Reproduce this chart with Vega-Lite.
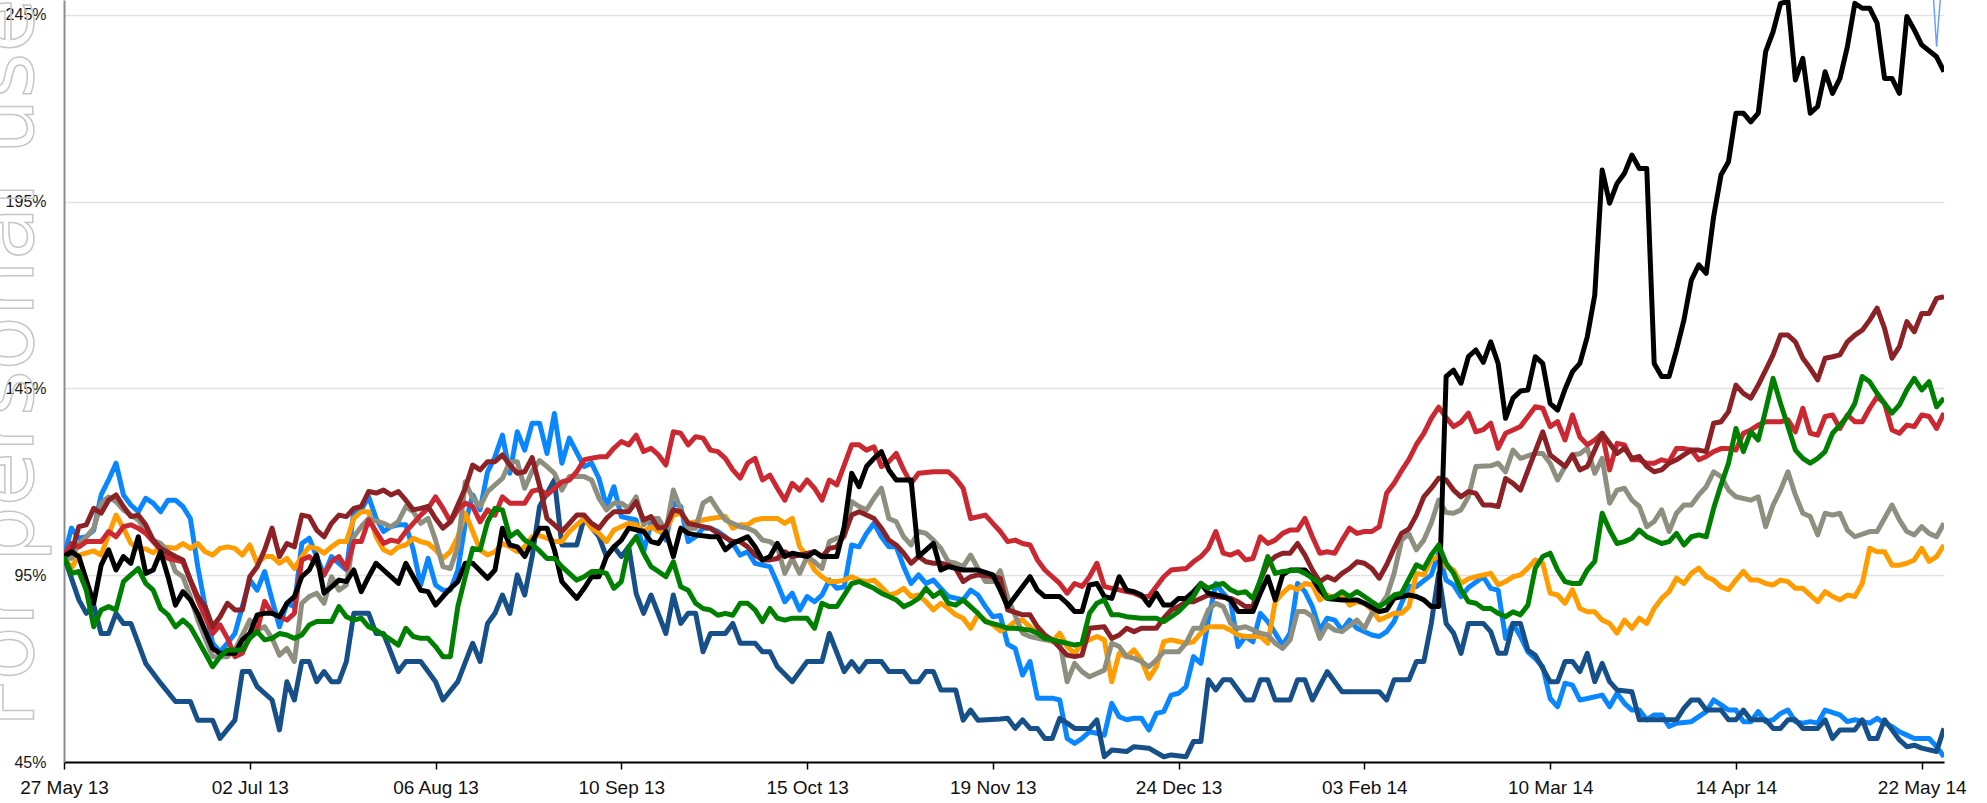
{
"$schema":"https://vega.github.io/schema/vega-lite/v6.json",
"width":1880,"height":762,
"autosize":{"type":"none"},
"padding":{"left":64,"top":0,"right":43,"bottom":41},
"background":"#ffffff",
"config":{"view":{"stroke":null},
"axisX":{"domainColor":"#000000","domainWidth":2,"tickColor":"#000000","tickSize":7,"tickWidth":1.5,"labelFont":"Liberation Sans","labelFontSize":19,"labelColor":"#111111","labelPadding":9,"grid":false,"labelOverlap":false,"labelFlush":false,"labelBound":false},
"axisY":{"domainColor":"#8c8c8c","domainWidth":2,"ticks":false,"labelFont":"Liberation Sans","labelFontSize":16,"labelColor":"#1a1a1a","labelPadding":18,"grid":true,"gridColor":"#e2e2e2","gridWidth":1.5,"labelOverlap":false}},
"data":{"values":[
{"s":"B","d":0,"v":100},{"s":"B","d":1,"v":107.6},{"s":"B","d":2,"v":104.9},{"s":"B","d":3,"v":105.3},{"s":"B","d":4,"v":107.1},{"s":"B","d":5,"v":116.5},{"s":"B","d":6,"v":120.5},{"s":"B","d":7,"v":125},{"s":"B","d":8,"v":116.5},{"s":"B","d":9,"v":113.8},{"s":"B","d":10,"v":112},{"s":"B","d":11,"v":115.6},{"s":"B","d":12,"v":114.3},{"s":"B","d":13,"v":112},{"s":"B","d":14,"v":115.1},{"s":"B","d":15,"v":115.1},{"s":"B","d":16,"v":113.4},{"s":"B","d":17,"v":110.2},{"s":"B","d":18,"v":97.3},{"s":"B","d":19,"v":86.6},{"s":"B","d":20,"v":76.8},{"s":"B","d":21,"v":74.5},{"s":"B","d":22,"v":76.8},{"s":"B","d":23,"v":79.4},{"s":"B","d":24,"v":86.6},{"s":"B","d":25,"v":93.7},{"s":"B","d":26,"v":91},{"s":"B","d":27,"v":96},{"s":"B","d":28,"v":88.4},{"s":"B","d":29,"v":81.2},{"s":"B","d":30,"v":87.5},{"s":"B","d":31,"v":86.6},{"s":"B","d":32,"v":103.5},{"s":"B","d":33,"v":104.9},{"s":"B","d":34,"v":100},{"s":"B","d":35,"v":95.1},{"s":"B","d":36,"v":100},{"s":"B","d":37,"v":98.2},{"s":"B","d":38,"v":96.4},{"s":"B","d":39,"v":112},{"s":"B","d":40,"v":112.5},{"s":"B","d":41,"v":116},{"s":"B","d":42,"v":110.2},{"s":"B","d":43,"v":106.7},{"s":"B","d":44,"v":108},{"s":"B","d":45,"v":108.5},{"s":"B","d":46,"v":108.5},{"s":"B","d":47,"v":101.8},{"s":"B","d":48,"v":92.4},{"s":"B","d":49,"v":99.5},{"s":"B","d":50,"v":92.4},{"s":"B","d":51,"v":91},{"s":"B","d":52,"v":91},{"s":"B","d":53,"v":96.4},{"s":"B","d":54,"v":108.9},{"s":"B","d":55,"v":116.5},{"s":"B","d":56,"v":112.5},{"s":"B","d":57,"v":122.7},{"s":"B","d":58,"v":126.7},{"s":"B","d":59,"v":132.5},{"s":"B","d":60,"v":122.3},{"s":"B","d":61,"v":133.4},{"s":"B","d":62,"v":128.5},{"s":"B","d":63,"v":135.7},{"s":"B","d":64,"v":135.7},{"s":"B","d":65,"v":127.6},{"s":"B","d":66,"v":138.3},{"s":"B","d":67,"v":125},{"s":"B","d":68,"v":131.7},{"s":"B","d":70,"v":124.1},{"s":"B","d":71,"v":125},{"s":"B","d":72,"v":120.9},{"s":"B","d":73,"v":113.4},{"s":"B","d":74,"v":118.7},{"s":"B","d":75,"v":110.7},{"s":"B","d":77,"v":109.8},{"s":"B","d":78,"v":101.3},{"s":"B","d":79,"v":108.9},{"s":"B","d":80,"v":108},{"s":"B","d":81,"v":104.4},{"s":"B","d":82,"v":114.3},{"s":"B","d":83,"v":113.4},{"s":"B","d":84,"v":104},{"s":"B","d":85,"v":105.3},{"s":"B","d":86,"v":107.6},{"s":"B","d":87,"v":107.6},{"s":"B","d":88,"v":106.7},{"s":"B","d":89,"v":105.3},{"s":"B","d":90,"v":103.5},{"s":"B","d":91,"v":100.4},{"s":"B","d":92,"v":101.3},{"s":"B","d":93,"v":98.2},{"s":"B","d":94,"v":97.7},{"s":"B","d":95,"v":97.3},{"s":"B","d":96,"v":92.8},{"s":"B","d":97,"v":87.9},{"s":"B","d":98,"v":90.2},{"s":"B","d":99,"v":85.7},{"s":"B","d":100,"v":89.3},{"s":"B","d":101,"v":87.9},{"s":"B","d":102,"v":89.7},{"s":"B","d":103,"v":93.7},{"s":"B","d":104,"v":91.5},{"s":"B","d":105,"v":91.9},{"s":"B","d":106,"v":103.1},{"s":"B","d":107,"v":102.6},{"s":"B","d":108,"v":106.2},{"s":"B","d":109,"v":108.9},{"s":"B","d":110,"v":105.3},{"s":"B","d":111,"v":102.6},{"s":"B","d":112,"v":102.6},{"s":"B","d":113,"v":97.3},{"s":"B","d":114,"v":92.8},{"s":"B","d":115,"v":95.1},{"s":"B","d":116,"v":92.8},{"s":"B","d":117,"v":93.7},{"s":"B","d":118,"v":91.5},{"s":"B","d":119,"v":89.3},{"s":"B","d":121,"v":88.4},{"s":"B","d":122,"v":91},{"s":"B","d":123,"v":89.7},{"s":"B","d":124,"v":86.6},{"s":"B","d":125,"v":83.9},{"s":"B","d":126,"v":84.2},{"s":"B","d":127,"v":76.5},{"s":"B","d":128,"v":75.4},{"s":"B","d":129,"v":68.3},{"s":"B","d":130,"v":71.9},{"s":"B","d":131,"v":62.1},{"s":"B","d":133,"v":62.1},{"s":"B","d":134,"v":61.6},{"s":"B","d":135,"v":51.3},{"s":"B","d":136,"v":50},{"s":"B","d":137,"v":51.3},{"s":"B","d":138,"v":53.1},{"s":"B","d":139,"v":52.7},{"s":"B","d":140,"v":52.2},{"s":"B","d":141,"v":60.7},{"s":"B","d":142,"v":57.1},{"s":"B","d":143,"v":56.3},{"s":"B","d":144,"v":56.7},{"s":"B","d":145,"v":56.7},{"s":"B","d":146,"v":53.6},{"s":"B","d":147,"v":58},{"s":"B","d":148,"v":58.5},{"s":"B","d":149,"v":62.9},{"s":"B","d":150,"v":63.4},{"s":"B","d":151,"v":65.2},{"s":"B","d":152,"v":73.2},{"s":"B","d":153,"v":71.4},{"s":"B","d":154,"v":83},{"s":"B","d":155,"v":92.8},{"s":"B","d":156,"v":90.2},{"s":"B","d":157,"v":88},{"s":"B","d":158,"v":75.9},{"s":"B","d":159,"v":78.6},{"s":"B","d":160,"v":77.2},{"s":"B","d":161,"v":84.8},{"s":"B","d":162,"v":82.6},{"s":"B","d":163,"v":79.5},{"s":"B","d":164,"v":76.3},{"s":"B","d":165,"v":79.5},{"s":"B","d":166,"v":92.8},{"s":"B","d":167,"v":90.6},{"s":"B","d":168,"v":86.6},{"s":"B","d":169,"v":80.3},{"s":"B","d":170,"v":83.5},{"s":"B","d":171,"v":83},{"s":"B","d":172,"v":80.3},{"s":"B","d":173,"v":83},{"s":"B","d":174,"v":80.8},{"s":"B","d":176,"v":79},{"s":"B","d":177,"v":78.6},{"s":"B","d":178,"v":79.9},{"s":"B","d":179,"v":82.6},{"s":"B","d":180,"v":87.5},{"s":"B","d":181,"v":92},{"s":"B","d":182,"v":92},{"s":"B","d":184,"v":95.1},{"s":"B","d":185,"v":100.9},{"s":"B","d":186,"v":93.7},{"s":"B","d":187,"v":92.4},{"s":"B","d":188,"v":89.3},{"s":"B","d":189,"v":91.7},{"s":"B","d":191,"v":94.6},{"s":"B","d":192,"v":91.5},{"s":"B","d":193,"v":91},{"s":"B","d":194,"v":78.1},{"s":"B","d":195,"v":82.1},{"s":"B","d":196,"v":78.6},{"s":"B","d":197,"v":74.5},{"s":"B","d":198,"v":72.7},{"s":"B","d":199,"v":70.5},{"s":"B","d":200,"v":62},{"s":"B","d":201,"v":59.8},{"s":"B","d":202,"v":66.1},{"s":"B","d":203,"v":65.6},{"s":"B","d":204,"v":61.6},{"s":"B","d":205,"v":62},{"s":"B","d":207,"v":62.9},{"s":"B","d":208,"v":59.8},{"s":"B","d":209,"v":63.4},{"s":"B","d":210,"v":60.7},{"s":"B","d":211,"v":58.9},{"s":"B","d":212,"v":58.9},{"s":"B","d":213,"v":56.3},{"s":"B","d":214,"v":57.6},{"s":"B","d":215,"v":57.6},{"s":"B","d":216,"v":54.5},{"s":"B","d":217,"v":55.4},{"s":"B","d":219,"v":55.8},{"s":"B","d":221,"v":58.5},{"s":"B","d":222,"v":61.6},{"s":"B","d":223,"v":60.3},{"s":"B","d":224,"v":58.9},{"s":"B","d":225,"v":58.9},{"s":"B","d":226,"v":55.8},{"s":"B","d":227,"v":55.8},{"s":"B","d":228,"v":58.5},{"s":"B","d":229,"v":55.8},{"s":"B","d":230,"v":56.3},{"s":"B","d":231,"v":58},{"s":"B","d":232,"v":58.9},{"s":"B","d":233,"v":55.8},{"s":"B","d":234,"v":55.4},{"s":"B","d":235,"v":55.8},{"s":"B","d":236,"v":55.4},{"s":"B","d":237,"v":58.9},{"s":"B","d":239,"v":57.6},{"s":"B","d":240,"v":55.8},{"s":"B","d":241,"v":56.3},{"s":"B","d":243,"v":55.4},{"s":"B","d":244,"v":56.7},{"s":"B","d":245,"v":55.4},{"s":"B","d":246,"v":54.5},{"s":"B","d":247,"v":53.1},{"s":"B","d":248,"v":52.2},{"s":"B","d":249,"v":51.3},{"s":"B","d":251,"v":51.3},{"s":"B","d":252,"v":49.1},{"s":"B","d":253,"v":46.4},
{"s":"N","d":0,"v":100},{"s":"N","d":2,"v":88.4},{"s":"N","d":3,"v":84.8},{"s":"N","d":4,"v":87},{"s":"N","d":5,"v":79.4},{"s":"N","d":6,"v":79.4},{"s":"N","d":7,"v":84.8},{"s":"N","d":8,"v":82.1},{"s":"N","d":9,"v":82.1},{"s":"N","d":11,"v":71.4},{"s":"N","d":13,"v":66.1},{"s":"N","d":15,"v":61.2},{"s":"N","d":17,"v":61.2},{"s":"N","d":18,"v":56.2},{"s":"N","d":20,"v":56.2},{"s":"N","d":21,"v":51.3},{"s":"N","d":23,"v":56.2},{"s":"N","d":24,"v":69.2},{"s":"N","d":25,"v":69.2},{"s":"N","d":26,"v":65.2},{"s":"N","d":28,"v":61.6},{"s":"N","d":29,"v":53.6},{"s":"N","d":30,"v":66.5},{"s":"N","d":31,"v":61.6},{"s":"N","d":32,"v":71.9},{"s":"N","d":33,"v":71.9},{"s":"N","d":34,"v":66.5},{"s":"N","d":35,"v":69.2},{"s":"N","d":36,"v":66.5},{"s":"N","d":37,"v":66.5},{"s":"N","d":38,"v":71.9},{"s":"N","d":39,"v":84.8},{"s":"N","d":41,"v":84.8},{"s":"N","d":42,"v":79.4},{"s":"N","d":43,"v":79.4},{"s":"N","d":45,"v":69.2},{"s":"N","d":46,"v":71.9},{"s":"N","d":48,"v":71.9},{"s":"N","d":49,"v":69.2},{"s":"N","d":50,"v":66.5},{"s":"N","d":51,"v":61.6},{"s":"N","d":53,"v":66.5},{"s":"N","d":55,"v":76.8},{"s":"N","d":56,"v":71.9},{"s":"N","d":57,"v":82.1},{"s":"N","d":58,"v":84.8},{"s":"N","d":59,"v":89.7},{"s":"N","d":60,"v":84.8},{"s":"N","d":61,"v":95.1},{"s":"N","d":62,"v":89.7},{"s":"N","d":63,"v":100},{"s":"N","d":64,"v":113.4},{"s":"N","d":66,"v":120.5},{"s":"N","d":67,"v":103.1},{"s":"N","d":69,"v":103.1},{"s":"N","d":70,"v":110.2},{"s":"N","d":72,"v":105.3},{"s":"N","d":73,"v":100},{"s":"N","d":74,"v":102.6},{"s":"N","d":75,"v":100},{"s":"N","d":76,"v":102.6},{"s":"N","d":77,"v":90.1},{"s":"N","d":78,"v":84.8},{"s":"N","d":79,"v":89.7},{"s":"N","d":81,"v":79.4},{"s":"N","d":82,"v":89.7},{"s":"N","d":83,"v":82.1},{"s":"N","d":84,"v":84.8},{"s":"N","d":85,"v":84.8},{"s":"N","d":86,"v":74.5},{"s":"N","d":87,"v":79.4},{"s":"N","d":89,"v":79.4},{"s":"N","d":90,"v":82.1},{"s":"N","d":91,"v":76.8},{"s":"N","d":93,"v":76.8},{"s":"N","d":94,"v":74.5},{"s":"N","d":95,"v":74.5},{"s":"N","d":96,"v":70.5},{"s":"N","d":98,"v":66.5},{"s":"N","d":100,"v":71.9},{"s":"N","d":102,"v":71.9},{"s":"N","d":103,"v":79.4},{"s":"N","d":105,"v":69.2},{"s":"N","d":106,"v":71.9},{"s":"N","d":107,"v":69.2},{"s":"N","d":108,"v":71.9},{"s":"N","d":110,"v":71.9},{"s":"N","d":111,"v":69.2},{"s":"N","d":113,"v":69.2},{"s":"N","d":114,"v":66.5},{"s":"N","d":115,"v":66.5},{"s":"N","d":116,"v":69.2},{"s":"N","d":117,"v":69.2},{"s":"N","d":118,"v":64.3},{"s":"N","d":120,"v":64.3},{"s":"N","d":121,"v":56.2},{"s":"N","d":122,"v":58.9},{"s":"N","d":123,"v":56.2},{"s":"N","d":126,"v":56.5},{"s":"N","d":127,"v":56.7},{"s":"N","d":128,"v":54},{"s":"N","d":129,"v":56.3},{"s":"N","d":130,"v":54},{"s":"N","d":131,"v":54},{"s":"N","d":132,"v":51.3},{"s":"N","d":133,"v":51.3},{"s":"N","d":134,"v":56.7},{"s":"N","d":135,"v":55.4},{"s":"N","d":136,"v":54},{"s":"N","d":138,"v":54},{"s":"N","d":139,"v":56.3},{"s":"N","d":140,"v":46.4},{"s":"N","d":141,"v":48.2},{"s":"N","d":143,"v":47.8},{"s":"N","d":144,"v":49.1},{"s":"N","d":146,"v":48.7},{"s":"N","d":148,"v":46.4},{"s":"N","d":149,"v":46.9},{"s":"N","d":151,"v":46.4},{"s":"N","d":152,"v":50.5},{"s":"N","d":153,"v":50.5},{"s":"N","d":154,"v":67},{"s":"N","d":155,"v":64.3},{"s":"N","d":156,"v":67},{"s":"N","d":157,"v":67},{"s":"N","d":159,"v":61.6},{"s":"N","d":160,"v":61.6},{"s":"N","d":161,"v":67},{"s":"N","d":162,"v":67},{"s":"N","d":163,"v":61.6},{"s":"N","d":165,"v":61.6},{"s":"N","d":166,"v":67},{"s":"N","d":167,"v":67},{"s":"N","d":168,"v":61.6},{"s":"N","d":170,"v":69.2},{"s":"N","d":172,"v":63.8},{"s":"N","d":177,"v":63.8},{"s":"N","d":178,"v":61.6},{"s":"N","d":179,"v":67},{"s":"N","d":181,"v":67},{"s":"N","d":182,"v":71.9},{"s":"N","d":183,"v":71.9},{"s":"N","d":184,"v":82.1},{"s":"N","d":185,"v":95.5},{"s":"N","d":186,"v":82.1},{"s":"N","d":187,"v":79.5},{"s":"N","d":188,"v":74.1},{"s":"N","d":189,"v":82.1},{"s":"N","d":191,"v":82.1},{"s":"N","d":192,"v":79.9},{"s":"N","d":193,"v":74.1},{"s":"N","d":194,"v":74.1},{"s":"N","d":195,"v":82.1},{"s":"N","d":196,"v":82.1},{"s":"N","d":197,"v":75},{"s":"N","d":198,"v":73.6},{"s":"N","d":199,"v":70.1},{"s":"N","d":200,"v":66.5},{"s":"N","d":201,"v":66.5},{"s":"N","d":202,"v":71.9},{"s":"N","d":203,"v":71.9},{"s":"N","d":204,"v":69.2},{"s":"N","d":205,"v":74.1},{"s":"N","d":206,"v":66.5},{"s":"N","d":207,"v":71.4},{"s":"N","d":208,"v":66.5},{"s":"N","d":209,"v":64.3},{"s":"N","d":211,"v":63.8},{"s":"N","d":212,"v":56.3},{"s":"N","d":217,"v":56.3},{"s":"N","d":218,"v":59.4},{"s":"N","d":219,"v":61.6},{"s":"N","d":220,"v":61.6},{"s":"N","d":221,"v":58.9},{"s":"N","d":223,"v":58.9},{"s":"N","d":224,"v":56.3},{"s":"N","d":225,"v":56.3},{"s":"N","d":226,"v":58.9},{"s":"N","d":227,"v":56.3},{"s":"N","d":229,"v":56.3},{"s":"N","d":230,"v":54},{"s":"N","d":231,"v":54},{"s":"N","d":232,"v":56.3},{"s":"N","d":233,"v":56.3},{"s":"N","d":234,"v":54},{"s":"N","d":236,"v":54},{"s":"N","d":237,"v":56.3},{"s":"N","d":238,"v":51.3},{"s":"N","d":239,"v":53.6},{"s":"N","d":241,"v":53.6},{"s":"N","d":242,"v":56.3},{"s":"N","d":243,"v":51.3},{"s":"N","d":244,"v":51.3},{"s":"N","d":245,"v":56.3},{"s":"N","d":246,"v":53.6},{"s":"N","d":247,"v":50.9},{"s":"N","d":248,"v":49.1},{"s":"N","d":249,"v":49.5},{"s":"N","d":250,"v":48.7},{"s":"N","d":252,"v":47.8},{"s":"N","d":253,"v":54},
{"s":"O","d":0,"v":100},{"s":"O","d":1,"v":96.8},{"s":"O","d":2,"v":100.4},{"s":"O","d":4,"v":101.5},{"s":"O","d":5,"v":100.4},{"s":"O","d":6,"v":105.8},{"s":"O","d":7,"v":111.1},{"s":"O","d":8,"v":107.6},{"s":"O","d":9,"v":103.5},{"s":"O","d":10,"v":102.2},{"s":"O","d":11,"v":102},{"s":"O","d":12,"v":101},{"s":"O","d":13,"v":102.6},{"s":"O","d":15,"v":102.2},{"s":"O","d":16,"v":103.5},{"s":"O","d":17,"v":102.2},{"s":"O","d":18,"v":103.5},{"s":"O","d":19,"v":101.3},{"s":"O","d":20,"v":100.4},{"s":"O","d":21,"v":102.2},{"s":"O","d":22,"v":102.6},{"s":"O","d":23,"v":102.2},{"s":"O","d":24,"v":100.4},{"s":"O","d":25,"v":103.1},{"s":"O","d":26,"v":98.2},{"s":"O","d":27,"v":100},{"s":"O","d":28,"v":100},{"s":"O","d":29,"v":98.2},{"s":"O","d":30,"v":99.5},{"s":"O","d":31,"v":96.8},{"s":"O","d":32,"v":100},{"s":"O","d":33,"v":102.6},{"s":"O","d":34,"v":102.2},{"s":"O","d":35,"v":100.9},{"s":"O","d":36,"v":102.6},{"s":"O","d":37,"v":104},{"s":"O","d":38,"v":104},{"s":"O","d":39,"v":110.2},{"s":"O","d":40,"v":112},{"s":"O","d":41,"v":112},{"s":"O","d":42,"v":105.3},{"s":"O","d":43,"v":101.8},{"s":"O","d":44,"v":100.9},{"s":"O","d":45,"v":102.6},{"s":"O","d":46,"v":103.1},{"s":"O","d":47,"v":104.9},{"s":"O","d":48,"v":104},{"s":"O","d":49,"v":103.5},{"s":"O","d":50,"v":101.8},{"s":"O","d":51,"v":99.5},{"s":"O","d":52,"v":101.3},{"s":"O","d":53,"v":105.3},{"s":"O","d":54,"v":111.6},{"s":"O","d":55,"v":106.7},{"s":"O","d":56,"v":101.8},{"s":"O","d":57,"v":100.4},{"s":"O","d":58,"v":101.3},{"s":"O","d":59,"v":103.5},{"s":"O","d":60,"v":102.6},{"s":"O","d":61,"v":101.3},{"s":"O","d":62,"v":102.6},{"s":"O","d":63,"v":105.3},{"s":"O","d":64,"v":105.6},{"s":"O","d":65,"v":104.9},{"s":"O","d":66,"v":104},{"s":"O","d":67,"v":104},{"s":"O","d":68,"v":106.7},{"s":"O","d":70,"v":110.2},{"s":"O","d":71,"v":107.6},{"s":"O","d":72,"v":106.2},{"s":"O","d":73,"v":104},{"s":"O","d":74,"v":107.1},{"s":"O","d":75,"v":108},{"s":"O","d":76,"v":108.9},{"s":"O","d":77,"v":108.5},{"s":"O","d":78,"v":106.7},{"s":"O","d":79,"v":108},{"s":"O","d":80,"v":106.7},{"s":"O","d":81,"v":107.1},{"s":"O","d":82,"v":111.1},{"s":"O","d":83,"v":111.6},{"s":"O","d":84,"v":108.9},{"s":"O","d":85,"v":109.3},{"s":"O","d":86,"v":109.8},{"s":"O","d":87,"v":110.2},{"s":"O","d":89,"v":110.7},{"s":"O","d":90,"v":107.6},{"s":"O","d":91,"v":108.5},{"s":"O","d":92,"v":108.5},{"s":"O","d":93,"v":109.8},{"s":"O","d":94,"v":110.2},{"s":"O","d":96,"v":110.2},{"s":"O","d":97,"v":108.9},{"s":"O","d":98,"v":110.2},{"s":"O","d":99,"v":102.6},{"s":"O","d":100,"v":100},{"s":"O","d":101,"v":96.4},{"s":"O","d":102,"v":94.6},{"s":"O","d":103,"v":93.3},{"s":"O","d":104,"v":93.3},{"s":"O","d":105,"v":93.7},{"s":"O","d":106,"v":94.6},{"s":"O","d":107,"v":93.7},{"s":"O","d":108,"v":93.3},{"s":"O","d":109,"v":93.7},{"s":"O","d":110,"v":91.9},{"s":"O","d":111,"v":89.7},{"s":"O","d":112,"v":90.2},{"s":"O","d":113,"v":91.5},{"s":"O","d":114,"v":89.3},{"s":"O","d":115,"v":89.7},{"s":"O","d":116,"v":87.9},{"s":"O","d":117,"v":85.7},{"s":"O","d":118,"v":87.5},{"s":"O","d":119,"v":86.1},{"s":"O","d":120,"v":84.4},{"s":"O","d":121,"v":83.5},{"s":"O","d":122,"v":80.8},{"s":"O","d":123,"v":84.4},{"s":"O","d":124,"v":83},{"s":"O","d":125,"v":81.7},{"s":"O","d":126,"v":80.1},{"s":"O","d":127,"v":81},{"s":"O","d":128,"v":82.6},{"s":"O","d":129,"v":83},{"s":"O","d":130,"v":81.2},{"s":"O","d":131,"v":79.5},{"s":"O","d":133,"v":77.2},{"s":"O","d":134,"v":79.5},{"s":"O","d":135,"v":75.9},{"s":"O","d":136,"v":74.1},{"s":"O","d":137,"v":76.8},{"s":"O","d":139,"v":78.6},{"s":"O","d":140,"v":77.7},{"s":"O","d":141,"v":66.5},{"s":"O","d":142,"v":74.1},{"s":"O","d":143,"v":73.2},{"s":"O","d":144,"v":75},{"s":"O","d":145,"v":72.3},{"s":"O","d":146,"v":67.4},{"s":"O","d":147,"v":70.5},{"s":"O","d":148,"v":77.2},{"s":"O","d":149,"v":77.7},{"s":"O","d":151,"v":76.8},{"s":"O","d":152,"v":77.2},{"s":"O","d":153,"v":79.5},{"s":"O","d":154,"v":81.2},{"s":"O","d":156,"v":81.2},{"s":"O","d":157,"v":80.3},{"s":"O","d":158,"v":79},{"s":"O","d":159,"v":78.6},{"s":"O","d":161,"v":78.6},{"s":"O","d":162,"v":76.8},{"s":"O","d":163,"v":87.9},{"s":"O","d":164,"v":90.2},{"s":"O","d":165,"v":92},{"s":"O","d":166,"v":91.1},{"s":"O","d":167,"v":92.8},{"s":"O","d":168,"v":92.4},{"s":"O","d":169,"v":88.4},{"s":"O","d":170,"v":89.7},{"s":"O","d":171,"v":88.8},{"s":"O","d":172,"v":89.7},{"s":"O","d":173,"v":87},{"s":"O","d":174,"v":87.9},{"s":"O","d":175,"v":87.5},{"s":"O","d":176,"v":85.7},{"s":"O","d":177,"v":83},{"s":"O","d":178,"v":83.9},{"s":"O","d":179,"v":84.8},{"s":"O","d":180,"v":84.8},{"s":"O","d":181,"v":86.6},{"s":"O","d":182,"v":95.5},{"s":"O","d":183,"v":95.1},{"s":"O","d":184,"v":99.1},{"s":"O","d":185,"v":100},{"s":"O","d":186,"v":97.3},{"s":"O","d":187,"v":96.4},{"s":"O","d":188,"v":92.8},{"s":"O","d":189,"v":94},{"s":"O","d":190,"v":94.6},{"s":"O","d":192,"v":95.5},{"s":"O","d":193,"v":92.4},{"s":"O","d":194,"v":93.3},{"s":"O","d":195,"v":94.6},{"s":"O","d":196,"v":95.1},{"s":"O","d":197,"v":96.9},{"s":"O","d":198,"v":99.1},{"s":"O","d":199,"v":98.2},{"s":"O","d":200,"v":90.2},{"s":"O","d":201,"v":89.7},{"s":"O","d":202,"v":87.5},{"s":"O","d":203,"v":91.1},{"s":"O","d":204,"v":86.1},{"s":"O","d":205,"v":85.2},{"s":"O","d":206,"v":85.2},{"s":"O","d":207,"v":83},{"s":"O","d":208,"v":82.1},{"s":"O","d":209,"v":79.5},{"s":"O","d":210,"v":83},{"s":"O","d":211,"v":80.8},{"s":"O","d":212,"v":83.5},{"s":"O","d":213,"v":82.1},{"s":"O","d":214,"v":86.1},{"s":"O","d":215,"v":88.8},{"s":"O","d":216,"v":90.6},{"s":"O","d":217,"v":94.2},{"s":"O","d":218,"v":92.8},{"s":"O","d":219,"v":95.5},{"s":"O","d":220,"v":96.9},{"s":"O","d":221,"v":94.6},{"s":"O","d":222,"v":93.7},{"s":"O","d":223,"v":91.9},{"s":"O","d":224,"v":91.1},{"s":"O","d":225,"v":93.7},{"s":"O","d":226,"v":96},{"s":"O","d":227,"v":93.7},{"s":"O","d":228,"v":93.7},{"s":"O","d":229,"v":92.8},{"s":"O","d":230,"v":92.4},{"s":"O","d":231,"v":93.7},{"s":"O","d":232,"v":93.3},{"s":"O","d":233,"v":91.5},{"s":"O","d":234,"v":91.5},{"s":"O","d":235,"v":89.7},{"s":"O","d":236,"v":87.9},{"s":"O","d":237,"v":90.6},{"s":"O","d":238,"v":89.3},{"s":"O","d":239,"v":88.4},{"s":"O","d":240,"v":89.7},{"s":"O","d":241,"v":89.3},{"s":"O","d":242,"v":92.8},{"s":"O","d":243,"v":102.2},{"s":"O","d":244,"v":101.3},{"s":"O","d":245,"v":101.3},{"s":"O","d":246,"v":97.7},{"s":"O","d":247,"v":97.7},{"s":"O","d":248,"v":98.2},{"s":"O","d":249,"v":99.1},{"s":"O","d":250,"v":102.2},{"s":"O","d":251,"v":98.7},{"s":"O","d":252,"v":100},{"s":"O","d":253,"v":103.1},
{"s":"Y","d":0,"v":100},{"s":"Y","d":1,"v":99.5},{"s":"Y","d":2,"v":103.5},{"s":"Y","d":3,"v":105.3},{"s":"Y","d":4,"v":107.6},{"s":"Y","d":5,"v":114.3},{"s":"Y","d":6,"v":116},{"s":"Y","d":7,"v":114.7},{"s":"Y","d":8,"v":112.5},{"s":"Y","d":9,"v":111.1},{"s":"Y","d":10,"v":109.8},{"s":"Y","d":11,"v":107.1},{"s":"Y","d":12,"v":104.4},{"s":"Y","d":13,"v":103.5},{"s":"Y","d":14,"v":101.3},{"s":"Y","d":15,"v":96},{"s":"Y","d":16,"v":94.6},{"s":"Y","d":17,"v":89.3},{"s":"Y","d":18,"v":83},{"s":"Y","d":20,"v":73.2},{"s":"Y","d":22,"v":73.2},{"s":"Y","d":23,"v":75},{"s":"Y","d":25,"v":83},{"s":"Y","d":26,"v":80.3},{"s":"Y","d":27,"v":81.2},{"s":"Y","d":28,"v":78.1},{"s":"Y","d":29,"v":73.6},{"s":"Y","d":30,"v":75.4},{"s":"Y","d":31,"v":71.9},{"s":"Y","d":32,"v":87.5},{"s":"Y","d":33,"v":89.3},{"s":"Y","d":34,"v":90.2},{"s":"Y","d":35,"v":87.5},{"s":"Y","d":36,"v":94.6},{"s":"Y","d":37,"v":91},{"s":"Y","d":38,"v":92.4},{"s":"Y","d":39,"v":105.3},{"s":"Y","d":40,"v":108},{"s":"Y","d":41,"v":110.2},{"s":"Y","d":43,"v":108.9},{"s":"Y","d":44,"v":108},{"s":"Y","d":45,"v":109.4},{"s":"Y","d":46,"v":113.4},{"s":"Y","d":47,"v":112},{"s":"Y","d":48,"v":108.9},{"s":"Y","d":49,"v":110.2},{"s":"Y","d":50,"v":104.4},{"s":"Y","d":51,"v":97.3},{"s":"Y","d":52,"v":96.8},{"s":"Y","d":53,"v":102.6},{"s":"Y","d":54,"v":120},{"s":"Y","d":55,"v":115.6},{"s":"Y","d":56,"v":113.4},{"s":"Y","d":57,"v":117.4},{"s":"Y","d":59,"v":120.9},{"s":"Y","d":60,"v":125.4},{"s":"Y","d":61,"v":125.4},{"s":"Y","d":62,"v":118.3},{"s":"Y","d":63,"v":122.9},{"s":"Y","d":64,"v":125.7},{"s":"Y","d":65,"v":124.1},{"s":"Y","d":66,"v":122.3},{"s":"Y","d":67,"v":117.8},{"s":"Y","d":68,"v":121.4},{"s":"Y","d":70,"v":121.4},{"s":"Y","d":71,"v":120.5},{"s":"Y","d":72,"v":115.6},{"s":"Y","d":73,"v":112.5},{"s":"Y","d":74,"v":114.3},{"s":"Y","d":75,"v":114.3},{"s":"Y","d":76,"v":112.9},{"s":"Y","d":77,"v":116},{"s":"Y","d":78,"v":108.5},{"s":"Y","d":79,"v":110.2},{"s":"Y","d":80,"v":110.2},{"s":"Y","d":81,"v":106.7},{"s":"Y","d":82,"v":117.8},{"s":"Y","d":83,"v":112.5},{"s":"Y","d":84,"v":107.6},{"s":"Y","d":85,"v":107.6},{"s":"Y","d":86,"v":114.3},{"s":"Y","d":87,"v":115.6},{"s":"Y","d":88,"v":112.5},{"s":"Y","d":89,"v":109.8},{"s":"Y","d":91,"v":108},{"s":"Y","d":92,"v":107.6},{"s":"Y","d":93,"v":106.7},{"s":"Y","d":94,"v":104.4},{"s":"Y","d":95,"v":104},{"s":"Y","d":96,"v":102.6},{"s":"Y","d":97,"v":95.5},{"s":"Y","d":98,"v":99.5},{"s":"Y","d":99,"v":95.5},{"s":"Y","d":100,"v":100},{"s":"Y","d":101,"v":98.6},{"s":"Y","d":102,"v":96.8},{"s":"Y","d":103,"v":104},{"s":"Y","d":104,"v":104.9},{"s":"Y","d":105,"v":105.3},{"s":"Y","d":106,"v":114.7},{"s":"Y","d":107,"v":113.4},{"s":"Y","d":108,"v":112.5},{"s":"Y","d":109,"v":115.6},{"s":"Y","d":110,"v":118.3},{"s":"Y","d":111,"v":110.2},{"s":"Y","d":112,"v":109.3},{"s":"Y","d":113,"v":105.3},{"s":"Y","d":114,"v":103.1},{"s":"Y","d":115,"v":106.7},{"s":"Y","d":116,"v":106.2},{"s":"Y","d":117,"v":104.4},{"s":"Y","d":118,"v":102.2},{"s":"Y","d":119,"v":98.6},{"s":"Y","d":120,"v":98.2},{"s":"Y","d":121,"v":97.3},{"s":"Y","d":122,"v":100.4},{"s":"Y","d":123,"v":96.8},{"s":"Y","d":124,"v":93.3},{"s":"Y","d":125,"v":93.3},{"s":"Y","d":126,"v":96.2},{"s":"Y","d":127,"v":89},{"s":"Y","d":129,"v":79.5},{"s":"Y","d":130,"v":78.6},{"s":"Y","d":132,"v":77.7},{"s":"Y","d":134,"v":77.2},{"s":"Y","d":135,"v":66.5},{"s":"Y","d":136,"v":71.4},{"s":"Y","d":137,"v":69.2},{"s":"Y","d":138,"v":67.8},{"s":"Y","d":139,"v":68.7},{"s":"Y","d":140,"v":69.6},{"s":"Y","d":141,"v":76.8},{"s":"Y","d":142,"v":75.9},{"s":"Y","d":143,"v":73.2},{"s":"Y","d":144,"v":72.8},{"s":"Y","d":145,"v":71.9},{"s":"Y","d":146,"v":70.5},{"s":"Y","d":147,"v":72.3},{"s":"Y","d":148,"v":74.5},{"s":"Y","d":150,"v":74.5},{"s":"Y","d":151,"v":76.8},{"s":"Y","d":152,"v":80.8},{"s":"Y","d":153,"v":80.8},{"s":"Y","d":154,"v":85.7},{"s":"Y","d":155,"v":87.5},{"s":"Y","d":156,"v":86.6},{"s":"Y","d":157,"v":82.1},{"s":"Y","d":158,"v":80.8},{"s":"Y","d":159,"v":81.2},{"s":"Y","d":161,"v":79.5},{"s":"Y","d":162,"v":79},{"s":"Y","d":163,"v":76.8},{"s":"Y","d":164,"v":75.4},{"s":"Y","d":165,"v":77.7},{"s":"Y","d":166,"v":85.3},{"s":"Y","d":167,"v":85.3},{"s":"Y","d":168,"v":83.9},{"s":"Y","d":169,"v":78.1},{"s":"Y","d":170,"v":81.7},{"s":"Y","d":171,"v":80.3},{"s":"Y","d":172,"v":79.9},{"s":"Y","d":174,"v":83},{"s":"Y","d":175,"v":80.8},{"s":"Y","d":176,"v":84.8},{"s":"Y","d":177,"v":86.6},{"s":"Y","d":178,"v":89.3},{"s":"Y","d":179,"v":95.5},{"s":"Y","d":180,"v":104.4},{"s":"Y","d":181,"v":106},{"s":"Y","d":182,"v":101.8},{"s":"Y","d":183,"v":104.4},{"s":"Y","d":184,"v":109},{"s":"Y","d":185,"v":115.1},{"s":"Y","d":186,"v":111.8},{"s":"Y","d":187,"v":111.6},{"s":"Y","d":188,"v":112.5},{"s":"Y","d":189,"v":116},{"s":"Y","d":190,"v":124.1},{"s":"Y","d":192,"v":124.3},{"s":"Y","d":193,"v":125},{"s":"Y","d":194,"v":122.7},{"s":"Y","d":195,"v":128.5},{"s":"Y","d":196,"v":126.3},{"s":"Y","d":198,"v":127.6},{"s":"Y","d":199,"v":127.6},{"s":"Y","d":200,"v":125},{"s":"Y","d":201,"v":120.5},{"s":"Y","d":202,"v":124.1},{"s":"Y","d":203,"v":127.2},{"s":"Y","d":204,"v":127.5},{"s":"Y","d":205,"v":129},{"s":"Y","d":206,"v":122.3},{"s":"Y","d":207,"v":126.3},{"s":"Y","d":208,"v":114.3},{"s":"Y","d":209,"v":117.8},{"s":"Y","d":210,"v":118.3},{"s":"Y","d":211,"v":115.1},{"s":"Y","d":212,"v":113.4},{"s":"Y","d":213,"v":108},{"s":"Y","d":214,"v":109.4},{"s":"Y","d":215,"v":112.5},{"s":"Y","d":216,"v":106.7},{"s":"Y","d":217,"v":111.6},{"s":"Y","d":218,"v":113.8},{"s":"Y","d":219,"v":113.8},{"s":"Y","d":220,"v":116.5},{"s":"Y","d":221,"v":118.7},{"s":"Y","d":222,"v":122.7},{"s":"Y","d":223,"v":121.4},{"s":"Y","d":224,"v":117.8},{"s":"Y","d":225,"v":116},{"s":"Y","d":227,"v":115.1},{"s":"Y","d":228,"v":116},{"s":"Y","d":229,"v":108},{"s":"Y","d":230,"v":113.8},{"s":"Y","d":231,"v":117.8},{"s":"Y","d":232,"v":122.7},{"s":"Y","d":233,"v":116.5},{"s":"Y","d":234,"v":111.6},{"s":"Y","d":235,"v":110.7},{"s":"Y","d":236,"v":105.8},{"s":"Y","d":237,"v":111.6},{"s":"Y","d":238,"v":111.1},{"s":"Y","d":239,"v":111.6},{"s":"Y","d":240,"v":107.1},{"s":"Y","d":241,"v":105.3},{"s":"Y","d":243,"v":106.7},{"s":"Y","d":244,"v":106.7},{"s":"Y","d":246,"v":113.8},{"s":"Y","d":247,"v":109.8},{"s":"Y","d":248,"v":106.7},{"s":"Y","d":249,"v":105.8},{"s":"Y","d":250,"v":108},{"s":"Y","d":251,"v":106.2},{"s":"Y","d":252,"v":105.3},{"s":"Y","d":253,"v":108.9},
{"s":"R","d":0,"v":100.4},{"s":"R","d":1,"v":103.5},{"s":"R","d":2,"v":102.6},{"s":"R","d":3,"v":104},{"s":"R","d":5,"v":104},{"s":"R","d":6,"v":106.7},{"s":"R","d":7,"v":105.3},{"s":"R","d":8,"v":108},{"s":"R","d":9,"v":108.5},{"s":"R","d":10,"v":107.6},{"s":"R","d":11,"v":106.2},{"s":"R","d":12,"v":104},{"s":"R","d":13,"v":101.8},{"s":"R","d":14,"v":99.5},{"s":"R","d":16,"v":98.6},{"s":"R","d":17,"v":93.7},{"s":"R","d":18,"v":88.4},{"s":"R","d":19,"v":83.9},{"s":"R","d":20,"v":79.4},{"s":"R","d":21,"v":81.7},{"s":"R","d":22,"v":78.1},{"s":"R","d":23,"v":73.2},{"s":"R","d":24,"v":74.1},{"s":"R","d":25,"v":78.6},{"s":"R","d":26,"v":80.3},{"s":"R","d":27,"v":88},{"s":"R","d":28,"v":84.8},{"s":"R","d":29,"v":83.9},{"s":"R","d":30,"v":83},{"s":"R","d":31,"v":84.8},{"s":"R","d":32,"v":99.1},{"s":"R","d":33,"v":100},{"s":"R","d":34,"v":98.2},{"s":"R","d":35,"v":95.1},{"s":"R","d":36,"v":98.6},{"s":"R","d":37,"v":100},{"s":"R","d":38,"v":96.8},{"s":"R","d":39,"v":104},{"s":"R","d":40,"v":104},{"s":"R","d":41,"v":109.8},{"s":"R","d":42,"v":106.7},{"s":"R","d":43,"v":103.5},{"s":"R","d":44,"v":104.4},{"s":"R","d":45,"v":104},{"s":"R","d":46,"v":106.7},{"s":"R","d":47,"v":108.9},{"s":"R","d":48,"v":111.1},{"s":"R","d":49,"v":112.9},{"s":"R","d":50,"v":116},{"s":"R","d":51,"v":112.9},{"s":"R","d":52,"v":109.3},{"s":"R","d":53,"v":112.5},{"s":"R","d":54,"v":114.3},{"s":"R","d":55,"v":113.4},{"s":"R","d":56,"v":109.3},{"s":"R","d":57,"v":112.5},{"s":"R","d":58,"v":111.1},{"s":"R","d":59,"v":116},{"s":"R","d":60,"v":114.3},{"s":"R","d":61,"v":114.3},{"s":"R","d":62,"v":114.3},{"s":"R","d":63,"v":117.5},{"s":"R","d":64,"v":118},{"s":"R","d":65,"v":116.5},{"s":"R","d":67,"v":120},{"s":"R","d":68,"v":120.5},{"s":"R","d":69,"v":122.7},{"s":"R","d":70,"v":125.9},{"s":"R","d":71,"v":126.3},{"s":"R","d":72,"v":126.7},{"s":"R","d":73,"v":126.7},{"s":"R","d":74,"v":129},{"s":"R","d":75,"v":130.8},{"s":"R","d":76,"v":129.9},{"s":"R","d":77,"v":132.5},{"s":"R","d":78,"v":128.1},{"s":"R","d":79,"v":129},{"s":"R","d":80,"v":127.2},{"s":"R","d":81,"v":124.5},{"s":"R","d":82,"v":133.4},{"s":"R","d":83,"v":133},{"s":"R","d":84,"v":129.9},{"s":"R","d":85,"v":132.1},{"s":"R","d":86,"v":131.7},{"s":"R","d":87,"v":128.5},{"s":"R","d":88,"v":128.1},{"s":"R","d":89,"v":126.3},{"s":"R","d":90,"v":123.2},{"s":"R","d":91,"v":121},{"s":"R","d":92,"v":125},{"s":"R","d":93,"v":126.3},{"s":"R","d":94,"v":120.5},{"s":"R","d":95,"v":121.8},{"s":"R","d":96,"v":118.3},{"s":"R","d":97,"v":115.1},{"s":"R","d":98,"v":119.6},{"s":"R","d":99,"v":117.8},{"s":"R","d":100,"v":120.5},{"s":"R","d":101,"v":118.3},{"s":"R","d":102,"v":115.1},{"s":"R","d":103,"v":120.5},{"s":"R","d":104,"v":119.2},{"s":"R","d":105,"v":124.5},{"s":"R","d":106,"v":129.9},{"s":"R","d":107,"v":129.9},{"s":"R","d":108,"v":128.5},{"s":"R","d":109,"v":129.4},{"s":"R","d":110,"v":124.1},{"s":"R","d":111,"v":125.4},{"s":"R","d":112,"v":127.6},{"s":"R","d":113,"v":123.2},{"s":"R","d":114,"v":119.6},{"s":"R","d":115,"v":122.3},{"s":"R","d":117,"v":122.7},{"s":"R","d":119,"v":122.7},{"s":"R","d":120,"v":120.9},{"s":"R","d":121,"v":118.3},{"s":"R","d":122,"v":110.2},{"s":"R","d":124,"v":111.1},{"s":"R","d":125,"v":108.9},{"s":"R","d":126,"v":106.7},{"s":"R","d":127,"v":104},{"s":"R","d":128,"v":104.4},{"s":"R","d":129,"v":103.5},{"s":"R","d":130,"v":103.1},{"s":"R","d":131,"v":99.1},{"s":"R","d":132,"v":96.4},{"s":"R","d":133,"v":94.6},{"s":"R","d":134,"v":92.8},{"s":"R","d":135,"v":90.2},{"s":"R","d":136,"v":92.8},{"s":"R","d":137,"v":92},{"s":"R","d":138,"v":94.6},{"s":"R","d":139,"v":98.2},{"s":"R","d":140,"v":92},{"s":"R","d":141,"v":91.5},{"s":"R","d":142,"v":91.1},{"s":"R","d":143,"v":90.6},{"s":"R","d":144,"v":90.2},{"s":"R","d":145,"v":89.3},{"s":"R","d":146,"v":89.3},{"s":"R","d":147,"v":92},{"s":"R","d":148,"v":94.6},{"s":"R","d":149,"v":96.4},{"s":"R","d":151,"v":96.8},{"s":"R","d":152,"v":98.6},{"s":"R","d":153,"v":100},{"s":"R","d":154,"v":102.2},{"s":"R","d":155,"v":106.7},{"s":"R","d":156,"v":100.9},{"s":"R","d":157,"v":100.4},{"s":"R","d":158,"v":101.3},{"s":"R","d":159,"v":99.1},{"s":"R","d":160,"v":99.5},{"s":"R","d":161,"v":105.3},{"s":"R","d":162,"v":103.5},{"s":"R","d":163,"v":104.4},{"s":"R","d":164,"v":106.2},{"s":"R","d":165,"v":107.1},{"s":"R","d":166,"v":107.1},{"s":"R","d":167,"v":110.2},{"s":"R","d":168,"v":105.3},{"s":"R","d":169,"v":100.9},{"s":"R","d":170,"v":101.3},{"s":"R","d":171,"v":100.9},{"s":"R","d":172,"v":104.4},{"s":"R","d":173,"v":107.6},{"s":"R","d":174,"v":106.2},{"s":"R","d":175,"v":106.7},{"s":"R","d":176,"v":106.7},{"s":"R","d":177,"v":108},{"s":"R","d":178,"v":117},{"s":"R","d":179,"v":119.6},{"s":"R","d":180,"v":123},{"s":"R","d":181,"v":126},{"s":"R","d":182,"v":130},{"s":"R","d":183,"v":133},{"s":"R","d":184,"v":137},{"s":"R","d":185,"v":140},{"s":"R","d":186,"v":137.2},{"s":"R","d":187,"v":134.8},{"s":"R","d":188,"v":136},{"s":"R","d":189,"v":138.4},{"s":"R","d":190,"v":133.4},{"s":"R","d":191,"v":134},{"s":"R","d":192,"v":135.7},{"s":"R","d":193,"v":129},{"s":"R","d":194,"v":133},{"s":"R","d":195,"v":133.9},{"s":"R","d":196,"v":134.8},{"s":"R","d":198,"v":140.1},{"s":"R","d":199,"v":139.7},{"s":"R","d":200,"v":134.8},{"s":"R","d":201,"v":136.1},{"s":"R","d":202,"v":131.2},{"s":"R","d":203,"v":137.9},{"s":"R","d":204,"v":132},{"s":"R","d":205,"v":129.9},{"s":"R","d":206,"v":131.2},{"s":"R","d":207,"v":133},{"s":"R","d":208,"v":123.2},{"s":"R","d":209,"v":130.3},{"s":"R","d":210,"v":129.9},{"s":"R","d":211,"v":125.9},{"s":"R","d":212,"v":125.9},{"s":"R","d":213,"v":125},{"s":"R","d":214,"v":125},{"s":"R","d":215,"v":125.9},{"s":"R","d":216,"v":125.4},{"s":"R","d":217,"v":128.9},{"s":"R","d":218,"v":128.9},{"s":"R","d":219,"v":128.5},{"s":"R","d":220,"v":125.9},{"s":"R","d":221,"v":126.8},{"s":"R","d":222,"v":128.1},{"s":"R","d":223,"v":128.9},{"s":"R","d":224,"v":128.9},{"s":"R","d":225,"v":128.5},{"s":"R","d":226,"v":133},{"s":"R","d":227,"v":133.9},{"s":"R","d":228,"v":135.2},{"s":"R","d":229,"v":136.1},{"s":"R","d":231,"v":136.1},{"s":"R","d":232,"v":136.6},{"s":"R","d":233,"v":133.4},{"s":"R","d":234,"v":139.7},{"s":"R","d":235,"v":133},{"s":"R","d":236,"v":132.5},{"s":"R","d":237,"v":137.5},{"s":"R","d":238,"v":137.9},{"s":"R","d":239,"v":134.3},{"s":"R","d":240,"v":137.9},{"s":"R","d":241,"v":136.1},{"s":"R","d":242,"v":136.1},{"s":"R","d":243,"v":139.7},{"s":"R","d":244,"v":142.8},{"s":"R","d":245,"v":141},{"s":"R","d":246,"v":133.9},{"s":"R","d":247,"v":133},{"s":"R","d":248,"v":135.2},{"s":"R","d":249,"v":134.8},{"s":"R","d":250,"v":137.9},{"s":"R","d":251,"v":137.5},{"s":"R","d":252,"v":134.3},{"s":"R","d":253,"v":138.4},
{"s":"M","d":0,"v":100.4},{"s":"M","d":1,"v":100.9},{"s":"M","d":2,"v":108},{"s":"M","d":3,"v":108.5},{"s":"M","d":4,"v":112.9},{"s":"M","d":5,"v":111.6},{"s":"M","d":6,"v":115.1},{"s":"M","d":7,"v":116.5},{"s":"M","d":8,"v":113.4},{"s":"M","d":9,"v":110.7},{"s":"M","d":10,"v":111.1},{"s":"M","d":11,"v":108.5},{"s":"M","d":12,"v":104.4},{"s":"M","d":13,"v":102.2},{"s":"M","d":15,"v":100},{"s":"M","d":16,"v":99.1},{"s":"M","d":17,"v":93.7},{"s":"M","d":18,"v":89.3},{"s":"M","d":19,"v":86.6},{"s":"M","d":20,"v":81.2},{"s":"M","d":21,"v":83.9},{"s":"M","d":22,"v":87.5},{"s":"M","d":23,"v":85.7},{"s":"M","d":24,"v":85.7},{"s":"M","d":25,"v":94.6},{"s":"M","d":26,"v":97.3},{"s":"M","d":27,"v":101.8},{"s":"M","d":28,"v":107.6},{"s":"M","d":29,"v":100},{"s":"M","d":30,"v":103.5},{"s":"M","d":31,"v":102.6},{"s":"M","d":32,"v":111.1},{"s":"M","d":33,"v":110.7},{"s":"M","d":34,"v":107.1},{"s":"M","d":35,"v":105.3},{"s":"M","d":36,"v":108.9},{"s":"M","d":37,"v":111.1},{"s":"M","d":38,"v":110.7},{"s":"M","d":39,"v":112.9},{"s":"M","d":40,"v":113.4},{"s":"M","d":41,"v":117.4},{"s":"M","d":42,"v":117},{"s":"M","d":43,"v":117.8},{"s":"M","d":44,"v":116.5},{"s":"M","d":45,"v":117.4},{"s":"M","d":46,"v":115.1},{"s":"M","d":47,"v":112.5},{"s":"M","d":48,"v":112.9},{"s":"M","d":49,"v":113.4},{"s":"M","d":50,"v":110.2},{"s":"M","d":51,"v":107.6},{"s":"M","d":52,"v":109.3},{"s":"M","d":53,"v":113.8},{"s":"M","d":54,"v":118.3},{"s":"M","d":55,"v":124.5},{"s":"M","d":56,"v":123.2},{"s":"M","d":57,"v":125.4},{"s":"M","d":58,"v":125.4},{"s":"M","d":59,"v":127.2},{"s":"M","d":60,"v":124.5},{"s":"M","d":61,"v":122.3},{"s":"M","d":62,"v":122.7},{"s":"M","d":63,"v":126.5},{"s":"M","d":64,"v":119},{"s":"M","d":65,"v":110.2},{"s":"M","d":66,"v":108.5},{"s":"M","d":67,"v":106.7},{"s":"M","d":68,"v":108.9},{"s":"M","d":69,"v":111.1},{"s":"M","d":70,"v":111.1},{"s":"M","d":71,"v":108.9},{"s":"M","d":72,"v":107.6},{"s":"M","d":73,"v":110.2},{"s":"M","d":74,"v":112},{"s":"M","d":76,"v":112},{"s":"M","d":77,"v":114.7},{"s":"M","d":78,"v":109.8},{"s":"M","d":79,"v":110.7},{"s":"M","d":80,"v":107.6},{"s":"M","d":81,"v":108},{"s":"M","d":82,"v":112.5},{"s":"M","d":83,"v":112},{"s":"M","d":84,"v":108.9},{"s":"M","d":86,"v":108},{"s":"M","d":87,"v":107.6},{"s":"M","d":88,"v":106.2},{"s":"M","d":90,"v":104},{"s":"M","d":91,"v":104},{"s":"M","d":92,"v":102.6},{"s":"M","d":93,"v":100.4},{"s":"M","d":94,"v":99.1},{"s":"M","d":95,"v":99.1},{"s":"M","d":96,"v":99.5},{"s":"M","d":97,"v":101.3},{"s":"M","d":98,"v":100},{"s":"M","d":99,"v":100.4},{"s":"M","d":101,"v":101.3},{"s":"M","d":102,"v":100},{"s":"M","d":103,"v":102.2},{"s":"M","d":104,"v":102.6},{"s":"M","d":105,"v":105.8},{"s":"M","d":106,"v":111.1},{"s":"M","d":107,"v":112},{"s":"M","d":108,"v":111.1},{"s":"M","d":109,"v":110.2},{"s":"M","d":110,"v":107.6},{"s":"M","d":111,"v":104.4},{"s":"M","d":112,"v":103.1},{"s":"M","d":113,"v":100.9},{"s":"M","d":114,"v":98.2},{"s":"M","d":115,"v":100},{"s":"M","d":116,"v":98.6},{"s":"M","d":117,"v":98.2},{"s":"M","d":118,"v":98.2},{"s":"M","d":119,"v":97.7},{"s":"M","d":120,"v":96.8},{"s":"M","d":121,"v":93.3},{"s":"M","d":122,"v":94.6},{"s":"M","d":123,"v":95.1},{"s":"M","d":125,"v":94.6},{"s":"M","d":126,"v":94.2},{"s":"M","d":127,"v":85.7},{"s":"M","d":129,"v":84.4},{"s":"M","d":130,"v":84.4},{"s":"M","d":131,"v":81.2},{"s":"M","d":132,"v":79},{"s":"M","d":133,"v":77.7},{"s":"M","d":135,"v":73.6},{"s":"M","d":136,"v":73.2},{"s":"M","d":137,"v":73.6},{"s":"M","d":138,"v":80.8},{"s":"M","d":140,"v":81.2},{"s":"M","d":141,"v":78.1},{"s":"M","d":142,"v":79},{"s":"M","d":143,"v":80.8},{"s":"M","d":144,"v":79.9},{"s":"M","d":145,"v":80.8},{"s":"M","d":147,"v":80.8},{"s":"M","d":148,"v":83.5},{"s":"M","d":149,"v":85.7},{"s":"M","d":150,"v":86.6},{"s":"M","d":151,"v":87.9},{"s":"M","d":152,"v":87.9},{"s":"M","d":154,"v":89.7},{"s":"M","d":155,"v":89.3},{"s":"M","d":157,"v":88.8},{"s":"M","d":158,"v":87.9},{"s":"M","d":159,"v":86.6},{"s":"M","d":160,"v":86.6},{"s":"M","d":161,"v":93.7},{"s":"M","d":162,"v":98.2},{"s":"M","d":163,"v":100},{"s":"M","d":164,"v":100.9},{"s":"M","d":165,"v":100.9},{"s":"M","d":166,"v":103.5},{"s":"M","d":167,"v":100.4},{"s":"M","d":168,"v":96.4},{"s":"M","d":169,"v":93.3},{"s":"M","d":170,"v":94.6},{"s":"M","d":171,"v":93.7},{"s":"M","d":172,"v":95.5},{"s":"M","d":173,"v":96.8},{"s":"M","d":174,"v":98.6},{"s":"M","d":175,"v":98.2},{"s":"M","d":176,"v":96.8},{"s":"M","d":177,"v":94.2},{"s":"M","d":178,"v":97.8},{"s":"M","d":179,"v":102.2},{"s":"M","d":180,"v":106.2},{"s":"M","d":181,"v":107.4},{"s":"M","d":182,"v":111.1},{"s":"M","d":183,"v":116},{"s":"M","d":184,"v":118.3},{"s":"M","d":185,"v":121},{"s":"M","d":186,"v":120.5},{"s":"M","d":187,"v":117.8},{"s":"M","d":188,"v":116},{"s":"M","d":189,"v":117.4},{"s":"M","d":190,"v":116.9},{"s":"M","d":191,"v":113.8},{"s":"M","d":192,"v":113.8},{"s":"M","d":193,"v":113.4},{"s":"M","d":194,"v":120.9},{"s":"M","d":195,"v":119.6},{"s":"M","d":196,"v":117.8},{"s":"M","d":199,"v":133.4},{"s":"M","d":200,"v":127.2},{"s":"M","d":202,"v":124.1},{"s":"M","d":203,"v":127.2},{"s":"M","d":204,"v":123.2},{"s":"M","d":205,"v":124.1},{"s":"M","d":207,"v":133},{"s":"M","d":209,"v":127.6},{"s":"M","d":210,"v":129},{"s":"M","d":211,"v":126.3},{"s":"M","d":212,"v":126.8},{"s":"M","d":213,"v":124.1},{"s":"M","d":214,"v":122.7},{"s":"M","d":215,"v":123.2},{"s":"M","d":216,"v":125},{"s":"M","d":217,"v":125.9},{"s":"M","d":218,"v":127.2},{"s":"M","d":219,"v":128.5},{"s":"M","d":220,"v":128.5},{"s":"M","d":221,"v":128.1},{"s":"M","d":222,"v":135.7},{"s":"M","d":223,"v":136.1},{"s":"M","d":224,"v":138.8},{"s":"M","d":225,"v":145.9},{"s":"M","d":226,"v":143.7},{"s":"M","d":227,"v":142.4},{"s":"M","d":228,"v":145.9},{"s":"M","d":229,"v":149.9},{"s":"M","d":230,"v":154},{"s":"M","d":231,"v":159.3},{"s":"M","d":232,"v":159.3},{"s":"M","d":233,"v":157.5},{"s":"M","d":234,"v":153.1},{"s":"M","d":235,"v":150.4},{"s":"M","d":236,"v":147.3},{"s":"M","d":237,"v":153.1},{"s":"M","d":238,"v":153.5},{"s":"M","d":239,"v":154},{"s":"M","d":240,"v":157.5},{"s":"M","d":241,"v":159.3},{"s":"M","d":242,"v":160.6},{"s":"M","d":243,"v":163.3},{"s":"M","d":244,"v":166.5},{"s":"M","d":245,"v":161.1},{"s":"M","d":246,"v":153.1},{"s":"M","d":247,"v":156.2},{"s":"M","d":248,"v":162.9},{"s":"M","d":249,"v":160.2},{"s":"M","d":250,"v":165.1},{"s":"M","d":251,"v":165.1},{"s":"M","d":252,"v":169.1},{"s":"M","d":253,"v":169.6},
{"s":"K","d":0,"v":100},{"s":"K","d":1,"v":101.3},{"s":"K","d":2,"v":100},{"s":"K","d":3,"v":93.7},{"s":"K","d":4,"v":87.5},{"s":"K","d":5,"v":97.7},{"s":"K","d":6,"v":101.8},{"s":"K","d":7,"v":96.4},{"s":"K","d":8,"v":100},{"s":"K","d":9,"v":98.2},{"s":"K","d":10,"v":105.3},{"s":"K","d":11,"v":95.5},{"s":"K","d":12,"v":96.4},{"s":"K","d":13,"v":101.3},{"s":"K","d":14,"v":94.6},{"s":"K","d":15,"v":87},{"s":"K","d":16,"v":90.6},{"s":"K","d":17,"v":88.4},{"s":"K","d":18,"v":84.8},{"s":"K","d":20,"v":75.4},{"s":"K","d":21,"v":74.1},{"s":"K","d":23,"v":74.1},{"s":"K","d":24,"v":77.7},{"s":"K","d":25,"v":79.4},{"s":"K","d":26,"v":84.4},{"s":"K","d":27,"v":84.8},{"s":"K","d":28,"v":84.8},{"s":"K","d":29,"v":83.9},{"s":"K","d":30,"v":87.5},{"s":"K","d":31,"v":89.3},{"s":"K","d":32,"v":94.6},{"s":"K","d":33,"v":96.4},{"s":"K","d":34,"v":100.4},{"s":"K","d":35,"v":90.2},{"s":"K","d":36,"v":91.9},{"s":"K","d":37,"v":93.7},{"s":"K","d":38,"v":93.3},{"s":"K","d":39,"v":96.4},{"s":"K","d":40,"v":90.6},{"s":"K","d":41,"v":94.6},{"s":"K","d":42,"v":98.2},{"s":"K","d":43,"v":96.4},{"s":"K","d":45,"v":92.8},{"s":"K","d":46,"v":98.2},{"s":"K","d":48,"v":91},{"s":"K","d":49,"v":90.6},{"s":"K","d":50,"v":87},{"s":"K","d":51,"v":89.3},{"s":"K","d":52,"v":91.5},{"s":"K","d":53,"v":93.3},{"s":"K","d":54,"v":98.2},{"s":"K","d":55,"v":98.2},{"s":"K","d":57,"v":94.2},{"s":"K","d":58,"v":96.4},{"s":"K","d":59,"v":107.6},{"s":"K","d":60,"v":103.1},{"s":"K","d":61,"v":102.6},{"s":"K","d":62,"v":100},{"s":"K","d":63,"v":104},{"s":"K","d":64,"v":107.6},{"s":"K","d":65,"v":107.6},{"s":"K","d":66,"v":101.8},{"s":"K","d":67,"v":93.3},{"s":"K","d":69,"v":88.8},{"s":"K","d":70,"v":91.5},{"s":"K","d":71,"v":94.6},{"s":"K","d":72,"v":94.6},{"s":"K","d":73,"v":100},{"s":"K","d":74,"v":102.6},{"s":"K","d":75,"v":104.4},{"s":"K","d":76,"v":107.6},{"s":"K","d":78,"v":106.7},{"s":"K","d":79,"v":104},{"s":"K","d":80,"v":103.5},{"s":"K","d":81,"v":106.7},{"s":"K","d":82,"v":100},{"s":"K","d":83,"v":107.6},{"s":"K","d":84,"v":106.2},{"s":"K","d":85,"v":105.8},{"s":"K","d":87,"v":105.3},{"s":"K","d":88,"v":105.3},{"s":"K","d":89,"v":101.8},{"s":"K","d":90,"v":103.5},{"s":"K","d":91,"v":104.4},{"s":"K","d":92,"v":105.3},{"s":"K","d":93,"v":102.6},{"s":"K","d":94,"v":99.1},{"s":"K","d":95,"v":100},{"s":"K","d":96,"v":103.5},{"s":"K","d":97,"v":100},{"s":"K","d":98,"v":100.9},{"s":"K","d":100,"v":100},{"s":"K","d":101,"v":101.3},{"s":"K","d":102,"v":100},{"s":"K","d":104,"v":100},{"s":"K","d":105,"v":108},{"s":"K","d":106,"v":122.3},{"s":"K","d":107,"v":118.7},{"s":"K","d":108,"v":124.1},{"s":"K","d":109,"v":126.3},{"s":"K","d":110,"v":128.1},{"s":"K","d":111,"v":123.2},{"s":"K","d":112,"v":120.5},{"s":"K","d":114,"v":120.5},{"s":"K","d":115,"v":100},{"s":"K","d":117,"v":103.5},{"s":"K","d":118,"v":96.4},{"s":"K","d":119,"v":97.3},{"s":"K","d":121,"v":96.4},{"s":"K","d":123,"v":96.4},{"s":"K","d":125,"v":95.1},{"s":"K","d":126,"v":91},{"s":"K","d":127,"v":86.6},{"s":"K","d":128,"v":89.3},{"s":"K","d":130,"v":94.6},{"s":"K","d":131,"v":91},{"s":"K","d":132,"v":89.3},{"s":"K","d":134,"v":89.3},{"s":"K","d":135,"v":87.5},{"s":"K","d":136,"v":85.3},{"s":"K","d":137,"v":85.3},{"s":"K","d":138,"v":92.4},{"s":"K","d":139,"v":92.8},{"s":"K","d":140,"v":89.3},{"s":"K","d":141,"v":88.8},{"s":"K","d":142,"v":94.6},{"s":"K","d":143,"v":91},{"s":"K","d":144,"v":90.6},{"s":"K","d":145,"v":89.7},{"s":"K","d":146,"v":87},{"s":"K","d":147,"v":90.2},{"s":"K","d":148,"v":87},{"s":"K","d":149,"v":87},{"s":"K","d":150,"v":88.8},{"s":"K","d":151,"v":88.8},{"s":"K","d":152,"v":90.6},{"s":"K","d":153,"v":92.8},{"s":"K","d":154,"v":90.2},{"s":"K","d":156,"v":89.3},{"s":"K","d":157,"v":88.4},{"s":"K","d":158,"v":85.3},{"s":"K","d":160,"v":85.3},{"s":"K","d":161,"v":90.2},{"s":"K","d":162,"v":94.6},{"s":"K","d":163,"v":88.4},{"s":"K","d":164,"v":95.1},{"s":"K","d":165,"v":96.4},{"s":"K","d":167,"v":96.4},{"s":"K","d":168,"v":94.2},{"s":"K","d":169,"v":91},{"s":"K","d":170,"v":88.8},{"s":"K","d":172,"v":88.4},{"s":"K","d":174,"v":88.4},{"s":"K","d":175,"v":87.5},{"s":"K","d":177,"v":85.3},{"s":"K","d":178,"v":85.7},{"s":"K","d":179,"v":88.8},{"s":"K","d":181,"v":89.7},{"s":"K","d":182,"v":89.3},{"s":"K","d":183,"v":88.4},{"s":"K","d":184,"v":86.6},{"s":"K","d":185,"v":86.6},{"s":"K","d":186,"v":148.2},{"s":"K","d":187,"v":149.9},{"s":"K","d":188,"v":146.4},{"s":"K","d":189,"v":153.5},{"s":"K","d":190,"v":155.3},{"s":"K","d":191,"v":152},{"s":"K","d":192,"v":157.5},{"s":"K","d":193,"v":151.7},{"s":"K","d":194,"v":137},{"s":"K","d":195,"v":142.4},{"s":"K","d":196,"v":144.3},{"s":"K","d":197,"v":144.6},{"s":"K","d":198,"v":153.5},{"s":"K","d":199,"v":151.7},{"s":"K","d":200,"v":141},{"s":"K","d":201,"v":139.2},{"s":"K","d":202,"v":144.8},{"s":"K","d":203,"v":149.5},{"s":"K","d":204,"v":151.7},{"s":"K","d":205,"v":158.9},{"s":"K","d":206,"v":170},{"s":"K","d":207,"v":203.5},{"s":"K","d":208,"v":194.6},{"s":"K","d":209,"v":199.9},{"s":"K","d":210,"v":202.6},{"s":"K","d":211,"v":207.5},{"s":"K","d":212,"v":203.9},{"s":"K","d":213,"v":203.9},{"s":"K","d":214,"v":151.7},{"s":"K","d":215,"v":148.2},{"s":"K","d":216,"v":148.2},{"s":"K","d":217,"v":155.3},{"s":"K","d":218,"v":163.3},{"s":"K","d":219,"v":174},{"s":"K","d":220,"v":178.1},{"s":"K","d":221,"v":175.8},{"s":"K","d":222,"v":191},{"s":"K","d":223,"v":202.2},{"s":"K","d":224,"v":205.7},{"s":"K","d":225,"v":218.7},{"s":"K","d":226,"v":218.7},{"s":"K","d":227,"v":216.4},{"s":"K","d":228,"v":218.7},{"s":"K","d":229,"v":235.2},{"s":"K","d":230,"v":240.5},{"s":"K","d":231,"v":248.1},{"s":"K","d":232,"v":248.6},{"s":"K","d":233,"v":227.6},{"s":"K","d":234,"v":233.4},{"s":"K","d":235,"v":218.7},{"s":"K","d":236,"v":220.5},{"s":"K","d":237,"v":229.8},{"s":"K","d":238,"v":224},{"s":"K","d":239,"v":228},{"s":"K","d":240,"v":236.5},{"s":"K","d":241,"v":248.1},{"s":"K","d":242,"v":246.8},{"s":"K","d":243,"v":246.8},{"s":"K","d":244,"v":242.8},{"s":"K","d":245,"v":228},{"s":"K","d":246,"v":228},{"s":"K","d":247,"v":224},{"s":"K","d":248,"v":244.6},{"s":"K","d":249,"v":241},{"s":"K","d":250,"v":237},{"s":"K","d":252,"v":233.8},{"s":"K","d":253,"v":229.8},
{"s":"G","d":0,"v":100},{"s":"G","d":1,"v":95.5},{"s":"G","d":2,"v":96},{"s":"G","d":3,"v":91},{"s":"G","d":4,"v":81.2},{"s":"G","d":5,"v":85.7},{"s":"G","d":6,"v":86.6},{"s":"G","d":7,"v":85.7},{"s":"G","d":8,"v":93.3},{"s":"G","d":9,"v":95.1},{"s":"G","d":10,"v":96.8},{"s":"G","d":11,"v":92.8},{"s":"G","d":12,"v":91},{"s":"G","d":13,"v":86.1},{"s":"G","d":14,"v":84.4},{"s":"G","d":15,"v":81.2},{"s":"G","d":16,"v":83},{"s":"G","d":17,"v":81.2},{"s":"G","d":18,"v":77.7},{"s":"G","d":20,"v":70.5},{"s":"G","d":21,"v":73.2},{"s":"G","d":22,"v":75},{"s":"G","d":24,"v":75},{"s":"G","d":25,"v":78.1},{"s":"G","d":26,"v":79.9},{"s":"G","d":27,"v":77.7},{"s":"G","d":28,"v":78.1},{"s":"G","d":29,"v":79.4},{"s":"G","d":30,"v":79},{"s":"G","d":31,"v":78.1},{"s":"G","d":32,"v":79},{"s":"G","d":33,"v":81.7},{"s":"G","d":34,"v":82.6},{"s":"G","d":36,"v":82.6},{"s":"G","d":37,"v":86.6},{"s":"G","d":38,"v":83.9},{"s":"G","d":39,"v":83},{"s":"G","d":40,"v":83.5},{"s":"G","d":41,"v":81.2},{"s":"G","d":42,"v":80.3},{"s":"G","d":44,"v":77.7},{"s":"G","d":45,"v":76.3},{"s":"G","d":46,"v":80.8},{"s":"G","d":47,"v":78.6},{"s":"G","d":48,"v":78.1},{"s":"G","d":49,"v":78.1},{"s":"G","d":50,"v":75.9},{"s":"G","d":51,"v":73.2},{"s":"G","d":52,"v":73.2},{"s":"G","d":53,"v":86.6},{"s":"G","d":54,"v":94.6},{"s":"G","d":55,"v":102.2},{"s":"G","d":56,"v":101.8},{"s":"G","d":57,"v":109.3},{"s":"G","d":58,"v":112.9},{"s":"G","d":59,"v":112.5},{"s":"G","d":60,"v":105.3},{"s":"G","d":61,"v":106.7},{"s":"G","d":62,"v":104.4},{"s":"G","d":63,"v":103.3},{"s":"G","d":64,"v":101.5},{"s":"G","d":65,"v":99.5},{"s":"G","d":66,"v":99.5},{"s":"G","d":67,"v":97.3},{"s":"G","d":68,"v":95.5},{"s":"G","d":69,"v":93.7},{"s":"G","d":70,"v":94.6},{"s":"G","d":71,"v":96},{"s":"G","d":72,"v":96},{"s":"G","d":73,"v":95.5},{"s":"G","d":74,"v":91.5},{"s":"G","d":75,"v":93.3},{"s":"G","d":76,"v":102.6},{"s":"G","d":77,"v":105.3},{"s":"G","d":78,"v":100.9},{"s":"G","d":79,"v":97.3},{"s":"G","d":80,"v":96},{"s":"G","d":81,"v":94.6},{"s":"G","d":82,"v":98.6},{"s":"G","d":83,"v":91.9},{"s":"G","d":84,"v":91},{"s":"G","d":85,"v":87.5},{"s":"G","d":86,"v":86.1},{"s":"G","d":87,"v":85.7},{"s":"G","d":88,"v":84.3},{"s":"G","d":89,"v":84.8},{"s":"G","d":90,"v":84.3},{"s":"G","d":91,"v":87.5},{"s":"G","d":92,"v":87.5},{"s":"G","d":93,"v":85.7},{"s":"G","d":94,"v":82.6},{"s":"G","d":95,"v":86.1},{"s":"G","d":96,"v":83.5},{"s":"G","d":97,"v":83},{"s":"G","d":98,"v":83.5},{"s":"G","d":100,"v":83.5},{"s":"G","d":101,"v":80.8},{"s":"G","d":102,"v":87.5},{"s":"G","d":103,"v":86.6},{"s":"G","d":104,"v":86.6},{"s":"G","d":105,"v":89.7},{"s":"G","d":106,"v":92.8},{"s":"G","d":107,"v":93.3},{"s":"G","d":108,"v":92.4},{"s":"G","d":109,"v":91.5},{"s":"G","d":110,"v":90.2},{"s":"G","d":111,"v":89.3},{"s":"G","d":112,"v":88.4},{"s":"G","d":113,"v":86.6},{"s":"G","d":114,"v":87.5},{"s":"G","d":115,"v":88.8},{"s":"G","d":116,"v":91.5},{"s":"G","d":117,"v":89.3},{"s":"G","d":118,"v":90.6},{"s":"G","d":119,"v":87.5},{"s":"G","d":120,"v":87},{"s":"G","d":121,"v":88.4},{"s":"G","d":122,"v":86.6},{"s":"G","d":123,"v":84.8},{"s":"G","d":124,"v":82.6},{"s":"G","d":126,"v":81.5},{"s":"G","d":127,"v":80.8},{"s":"G","d":128,"v":80.8},{"s":"G","d":130,"v":80.3},{"s":"G","d":131,"v":79.5},{"s":"G","d":132,"v":78.1},{"s":"G","d":133,"v":77.7},{"s":"G","d":135,"v":76.8},{"s":"G","d":136,"v":76.3},{"s":"G","d":137,"v":76.8},{"s":"G","d":138,"v":84.8},{"s":"G","d":139,"v":87.5},{"s":"G","d":140,"v":88.4},{"s":"G","d":141,"v":84.4},{"s":"G","d":142,"v":84.4},{"s":"G","d":143,"v":83.9},{"s":"G","d":145,"v":83.5},{"s":"G","d":146,"v":83.5},{"s":"G","d":147,"v":83.5},{"s":"G","d":148,"v":82.6},{"s":"G","d":149,"v":83.9},{"s":"G","d":150,"v":85.3},{"s":"G","d":152,"v":89.3},{"s":"G","d":153,"v":92.8},{"s":"G","d":154,"v":91.5},{"s":"G","d":155,"v":92.4},{"s":"G","d":156,"v":92.8},{"s":"G","d":157,"v":91.1},{"s":"G","d":158,"v":90.2},{"s":"G","d":159,"v":90.6},{"s":"G","d":160,"v":88.8},{"s":"G","d":161,"v":93.7},{"s":"G","d":162,"v":100},{"s":"G","d":163,"v":95.5},{"s":"G","d":164,"v":96},{"s":"G","d":165,"v":96.2},{"s":"G","d":166,"v":96.4},{"s":"G","d":167,"v":95.5},{"s":"G","d":168,"v":94.2},{"s":"G","d":169,"v":92.8},{"s":"G","d":170,"v":88.8},{"s":"G","d":171,"v":89.3},{"s":"G","d":172,"v":90.6},{"s":"G","d":173,"v":89.3},{"s":"G","d":174,"v":90.6},{"s":"G","d":175,"v":89.3},{"s":"G","d":176,"v":87.9},{"s":"G","d":177,"v":86.6},{"s":"G","d":178,"v":87.9},{"s":"G","d":179,"v":89.7},{"s":"G","d":180,"v":90.2},{"s":"G","d":182,"v":97.8},{"s":"G","d":183,"v":96.8},{"s":"G","d":184,"v":100.4},{"s":"G","d":185,"v":103.1},{"s":"G","d":186,"v":98.2},{"s":"G","d":187,"v":95.5},{"s":"G","d":188,"v":91.1},{"s":"G","d":189,"v":87.9},{"s":"G","d":190,"v":87.5},{"s":"G","d":191,"v":86.1},{"s":"G","d":192,"v":86.1},{"s":"G","d":193,"v":84.8},{"s":"G","d":194,"v":83.9},{"s":"G","d":195,"v":85.2},{"s":"G","d":196,"v":84.4},{"s":"G","d":197,"v":87},{"s":"G","d":198,"v":96.9},{"s":"G","d":199,"v":100},{"s":"G","d":200,"v":100.9},{"s":"G","d":201,"v":96.4},{"s":"G","d":202,"v":93.3},{"s":"G","d":203,"v":92.8},{"s":"G","d":204,"v":92.8},{"s":"G","d":205,"v":96.4},{"s":"G","d":206,"v":98.7},{"s":"G","d":207,"v":111.6},{"s":"G","d":208,"v":107.1},{"s":"G","d":209,"v":103.5},{"s":"G","d":210,"v":104},{"s":"G","d":211,"v":104.9},{"s":"G","d":212,"v":107.1},{"s":"G","d":213,"v":105.3},{"s":"G","d":214,"v":104.4},{"s":"G","d":215,"v":103.5},{"s":"G","d":216,"v":104},{"s":"G","d":217,"v":106.2},{"s":"G","d":218,"v":103.1},{"s":"G","d":219,"v":105.3},{"s":"G","d":220,"v":105.8},{"s":"G","d":221,"v":105.3},{"s":"G","d":222,"v":112.9},{"s":"G","d":223,"v":119.2},{"s":"G","d":224,"v":125},{"s":"G","d":225,"v":134.3},{"s":"G","d":226,"v":128.1},{"s":"G","d":227,"v":133.4},{"s":"G","d":228,"v":131.2},{"s":"G","d":229,"v":139.2},{"s":"G","d":230,"v":147.7},{"s":"G","d":231,"v":141},{"s":"G","d":232,"v":134.8},{"s":"G","d":233,"v":128.5},{"s":"G","d":234,"v":126.3},{"s":"G","d":235,"v":125},{"s":"G","d":236,"v":126.3},{"s":"G","d":237,"v":128.1},{"s":"G","d":238,"v":133},{"s":"G","d":239,"v":135.2},{"s":"G","d":240,"v":137.5},{"s":"G","d":241,"v":141},{"s":"G","d":242,"v":148.2},{"s":"G","d":243,"v":146.8},{"s":"G","d":244,"v":143.7},{"s":"G","d":245,"v":141},{"s":"G","d":246,"v":138.4},{"s":"G","d":247,"v":140.6},{"s":"G","d":248,"v":144.6},{"s":"G","d":249,"v":147.7},{"s":"G","d":250,"v":144.6},{"s":"G","d":251,"v":146.8},{"s":"G","d":252,"v":140.1},{"s":"G","d":253,"v":142.4},
{"s":"L","d":251,"v":268},{"s":"L","d":252,"v":236.5},{"s":"L","d":253,"v":262}
]},
"layer":[
{"transform":[{"filter":"datum.s != 'L'"}],
 "mark":{"type":"line","strokeWidth":5,"strokeJoin":"round","clip":true},
 "encoding":{
  "x":{"field":"d","type":"quantitative","scale":{"domain":[0,253],"nice":false,"zero":false},"axis":{"title":null,"values":[0,25,50,75,100,125,150,175,200,225,250],"labelExpr":"['27 May 13','02 Jul 13','06 Aug 13','10 Sep 13','15 Oct 13','19 Nov 13','24 Dec 13','03 Feb 14','10 Mar 14','14 Apr 14','22 May 14'][round(datum.value/25)]"}},
  "y":{"field":"v","type":"quantitative","scale":{"domain":[45,249],"nice":false,"zero":false},"axis":{"title":null,"values":[45,95,145,195,245],"labelExpr":"datum.value + '%'"}},
  "color":{"field":"s","type":"nominal","scale":{"domain":["B","N","O","Y","R","M","K","G","L"],"range":["#0a87ff","#175089","#ff9c00","#8f8f80","#cc2831","#8c2226","#000000","#008000","#6e9eff"]},"legend":null}}},
{"transform":[{"filter":"datum.s == 'L'"}],
 "mark":{"type":"line","strokeWidth":1.5,"clip":true},
 "encoding":{
  "x":{"field":"d","type":"quantitative","scale":{"domain":[0,253],"nice":false,"zero":false},"axis":{"title":null,"values":[0,25,50,75,100,125,150,175,200,225,250],"labelExpr":"['27 May 13','02 Jul 13','06 Aug 13','10 Sep 13','15 Oct 13','19 Nov 13','24 Dec 13','03 Feb 14','10 Mar 14','14 Apr 14','22 May 14'][round(datum.value/25)]"}},
  "y":{"field":"v","type":"quantitative","scale":{"domain":[45,249],"nice":false,"zero":false},"axis":{"title":null,"values":[45,95,145,195,245],"labelExpr":"datum.value + '%'"}},
  "color":{"field":"s","type":"nominal","scale":{"domain":["B","N","O","Y","R","M","K","G","L"],"range":["#0a87ff","#175089","#ff9c00","#8f8f80","#cc2831","#8c2226","#000000","#008000","#6e9eff"]},"legend":null}}},
{"data":{"values":[{"t":"For personal use"}]},
 "mark":{"type":"text","angle":270,"align":"left","baseline":"alphabetic","font":"DejaVu Sans","fontSize":88,"fill":"transparent","stroke":"#c6c6c6","strokeWidth":1.5},
 "encoding":{
  "x":{"datum":-4.13,"type":"quantitative","scale":{"domain":[0,253],"nice":false,"zero":false},"axis":{"title":null,"values":[0,25,50,75,100,125,150,175,200,225,250],"labelExpr":"['27 May 13','02 Jul 13','06 Aug 13','10 Sep 13','15 Oct 13','19 Nov 13','24 Dec 13','03 Feb 14','10 Mar 14','14 Apr 14','22 May 14'][round(datum.value/25)]"}},
  "y":{"datum":54.2,"type":"quantitative","scale":{"domain":[45,249],"nice":false,"zero":false},"axis":{"title":null,"values":[45,95,145,195,245],"labelExpr":"datum.value + '%'"}},
  "text":{"field":"t","type":"nominal"}}}
]
}
